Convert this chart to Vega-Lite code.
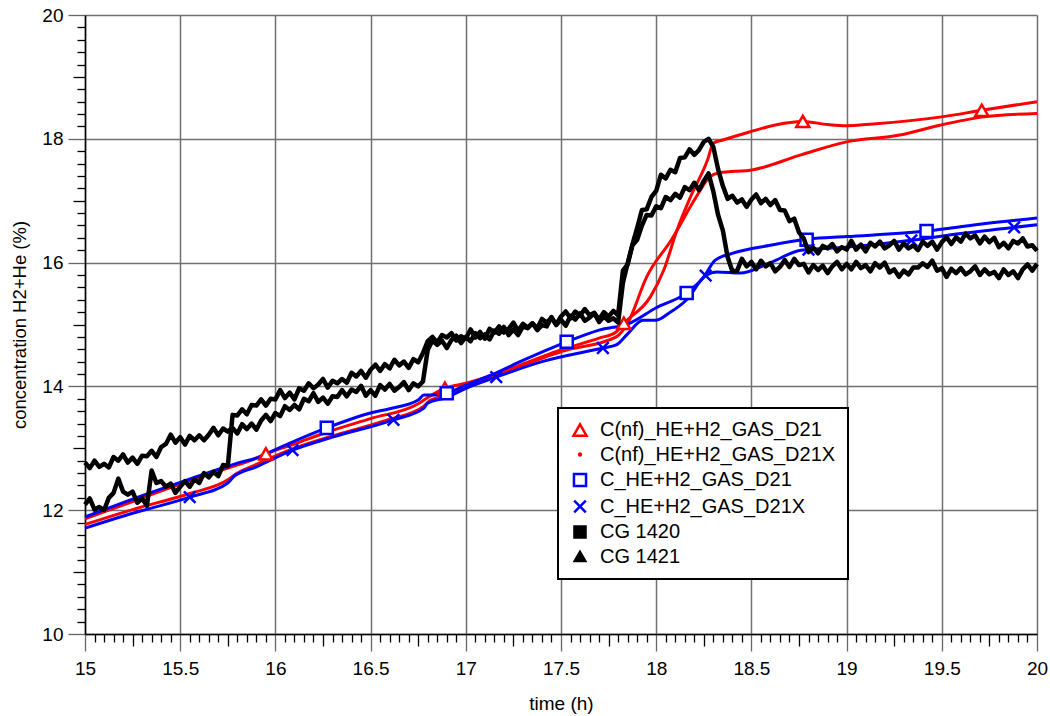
{
 "$schema": "https://vega.github.io/schema/vega-lite/v6.json",
 "width": 952,
 "height": 619,
 "autosize": {"type": "none"},
 "padding": {"left": 85, "top": 15, "right": 13, "bottom": 82},
 "background": "white",
 "config": {
  "font": "Liberation Sans",
  "view": {"stroke": null},
  "legend": {"labelFontSize": 20, "labelFont": "Liberation Sans", "labelColor": "black", "labelLimit": 400, "symbolSize": 110, "symbolStrokeWidth": 2.5, "strokeColor": "black", "strokeWidth": 2, "fillColor": "white", "padding": 12, "rowPadding": 3.5, "labelOffset": 10, "cornerRadius": 0}
 },
 "datasets": {
  "smooth": [
   {"series": "C(nf)_HE+H2_GAS_D21", "t": 15, "c": 11.86}, {"series": "C(nf)_HE+H2_GAS_D21", "t": 15.25, "c": 12.14}, {"series": "C(nf)_HE+H2_GAS_D21", "t": 15.5, "c": 12.42}, {"series": "C(nf)_HE+H2_GAS_D21", "t": 15.77, "c": 12.70}, {"series": "C(nf)_HE+H2_GAS_D21", "t": 15.85, "c": 12.78}, {"series": "C(nf)_HE+H2_GAS_D21", "t": 15.95, "c": 12.91}, {"series": "C(nf)_HE+H2_GAS_D21", "t": 16.1, "c": 13.07}, {"series": "C(nf)_HE+H2_GAS_D21", "t": 16.27, "c": 13.26}, {"series": "C(nf)_HE+H2_GAS_D21", "t": 16.5, "c": 13.48}, {"series": "C(nf)_HE+H2_GAS_D21", "t": 16.75, "c": 13.72}, {"series": "C(nf)_HE+H2_GAS_D21", "t": 16.8, "c": 13.82}, {"series": "C(nf)_HE+H2_GAS_D21", "t": 16.89, "c": 13.97}, {"series": "C(nf)_HE+H2_GAS_D21", "t": 17.0, "c": 14.05}, {"series": "C(nf)_HE+H2_GAS_D21", "t": 17.16, "c": 14.20}, {"series": "C(nf)_HE+H2_GAS_D21", "t": 17.35, "c": 14.42}, {"series": "C(nf)_HE+H2_GAS_D21", "t": 17.51, "c": 14.60}, {"series": "C(nf)_HE+H2_GAS_D21", "t": 17.7, "c": 14.78}, {"series": "C(nf)_HE+H2_GAS_D21", "t": 17.79, "c": 14.88}, {"series": "C(nf)_HE+H2_GAS_D21", "t": 17.83, "c": 15.02}, {"series": "C(nf)_HE+H2_GAS_D21", "t": 17.97, "c": 15.45}, {"series": "C(nf)_HE+H2_GAS_D21", "t": 18.04, "c": 15.88}, {"series": "C(nf)_HE+H2_GAS_D21", "t": 18.11, "c": 16.53}, {"series": "C(nf)_HE+H2_GAS_D21", "t": 18.18, "c": 17.06}, {"series": "C(nf)_HE+H2_GAS_D21", "t": 18.27, "c": 17.66}, {"series": "C(nf)_HE+H2_GAS_D21", "t": 18.3, "c": 17.93}, {"series": "C(nf)_HE+H2_GAS_D21", "t": 18.35, "c": 17.98}, {"series": "C(nf)_HE+H2_GAS_D21", "t": 18.49, "c": 18.11}, {"series": "C(nf)_HE+H2_GAS_D21", "t": 18.62, "c": 18.22}, {"series": "C(nf)_HE+H2_GAS_D21", "t": 18.77, "c": 18.28}, {"series": "C(nf)_HE+H2_GAS_D21", "t": 18.9, "c": 18.23}, {"series": "C(nf)_HE+H2_GAS_D21", "t": 19.0, "c": 18.21}, {"series": "C(nf)_HE+H2_GAS_D21", "t": 19.14, "c": 18.24}, {"series": "C(nf)_HE+H2_GAS_D21", "t": 19.49, "c": 18.35}, {"series": "C(nf)_HE+H2_GAS_D21", "t": 19.71, "c": 18.46}, {"series": "C(nf)_HE+H2_GAS_D21", "t": 20, "c": 18.6},
   {"series": "C(nf)_HE+H2_GAS_D21X", "t": 15, "c": 11.77}, {"series": "C(nf)_HE+H2_GAS_D21X", "t": 15.25, "c": 12.01}, {"series": "C(nf)_HE+H2_GAS_D21X", "t": 15.55, "c": 12.27}, {"series": "C(nf)_HE+H2_GAS_D21X", "t": 15.75, "c": 12.49}, {"series": "C(nf)_HE+H2_GAS_D21X", "t": 15.79, "c": 12.58}, {"series": "C(nf)_HE+H2_GAS_D21X", "t": 15.9, "c": 12.74}, {"series": "C(nf)_HE+H2_GAS_D21X", "t": 16.09, "c": 12.99}, {"series": "C(nf)_HE+H2_GAS_D21X", "t": 16.3, "c": 13.20}, {"series": "C(nf)_HE+H2_GAS_D21X", "t": 16.58, "c": 13.45}, {"series": "C(nf)_HE+H2_GAS_D21X", "t": 16.78, "c": 13.68}, {"series": "C(nf)_HE+H2_GAS_D21X", "t": 16.81, "c": 13.77}, {"series": "C(nf)_HE+H2_GAS_D21X", "t": 16.9, "c": 13.86}, {"series": "C(nf)_HE+H2_GAS_D21X", "t": 17.16, "c": 14.17}, {"series": "C(nf)_HE+H2_GAS_D21X", "t": 17.51, "c": 14.57}, {"series": "C(nf)_HE+H2_GAS_D21X", "t": 17.79, "c": 14.80}, {"series": "C(nf)_HE+H2_GAS_D21X", "t": 17.85, "c": 15.02}, {"series": "C(nf)_HE+H2_GAS_D21X", "t": 17.95, "c": 15.77}, {"series": "C(nf)_HE+H2_GAS_D21X", "t": 18.08, "c": 16.37}, {"series": "C(nf)_HE+H2_GAS_D21X", "t": 18.21, "c": 17.06}, {"series": "C(nf)_HE+H2_GAS_D21X", "t": 18.28, "c": 17.38}, {"series": "C(nf)_HE+H2_GAS_D21X", "t": 18.33, "c": 17.45}, {"series": "C(nf)_HE+H2_GAS_D21X", "t": 18.51, "c": 17.50}, {"series": "C(nf)_HE+H2_GAS_D21X", "t": 18.76, "c": 17.74}, {"series": "C(nf)_HE+H2_GAS_D21X", "t": 19.0, "c": 17.95}, {"series": "C(nf)_HE+H2_GAS_D21X", "t": 19.28, "c": 18.06}, {"series": "C(nf)_HE+H2_GAS_D21X", "t": 19.49, "c": 18.22}, {"series": "C(nf)_HE+H2_GAS_D21X", "t": 19.71, "c": 18.35}, {"series": "C(nf)_HE+H2_GAS_D21X", "t": 20, "c": 18.41},
   {"series": "C_HE+H2_GAS_D21", "t": 15, "c": 11.89}, {"series": "C_HE+H2_GAS_D21", "t": 15.25, "c": 12.18}, {"series": "C_HE+H2_GAS_D21", "t": 15.5, "c": 12.45}, {"series": "C_HE+H2_GAS_D21", "t": 15.75, "c": 12.71}, {"series": "C_HE+H2_GAS_D21", "t": 15.8, "c": 12.76}, {"series": "C_HE+H2_GAS_D21", "t": 15.9, "c": 12.84}, {"series": "C_HE+H2_GAS_D21", "t": 16.0, "c": 12.98}, {"series": "C_HE+H2_GAS_D21", "t": 16.27, "c": 13.33}, {"series": "C_HE+H2_GAS_D21", "t": 16.5, "c": 13.57}, {"series": "C_HE+H2_GAS_D21", "t": 16.6, "c": 13.64}, {"series": "C_HE+H2_GAS_D21", "t": 16.75, "c": 13.78}, {"series": "C_HE+H2_GAS_D21", "t": 16.78, "c": 13.86}, {"series": "C_HE+H2_GAS_D21", "t": 16.83, "c": 13.86}, {"series": "C_HE+H2_GAS_D21", "t": 16.9, "c": 13.89}, {"series": "C_HE+H2_GAS_D21", "t": 17.0, "c": 14.02}, {"series": "C_HE+H2_GAS_D21", "t": 17.16, "c": 14.22}, {"series": "C_HE+H2_GAS_D21", "t": 17.3, "c": 14.42}, {"series": "C_HE+H2_GAS_D21", "t": 17.53, "c": 14.72}, {"series": "C_HE+H2_GAS_D21", "t": 17.7, "c": 14.91}, {"series": "C_HE+H2_GAS_D21", "t": 17.86, "c": 15.02}, {"series": "C_HE+H2_GAS_D21", "t": 18.0, "c": 15.27}, {"series": "C_HE+H2_GAS_D21", "t": 18.16, "c": 15.51}, {"series": "C_HE+H2_GAS_D21", "t": 18.25, "c": 15.77}, {"series": "C_HE+H2_GAS_D21", "t": 18.31, "c": 16.04}, {"series": "C_HE+H2_GAS_D21", "t": 18.4, "c": 16.15}, {"series": "C_HE+H2_GAS_D21", "t": 18.6, "c": 16.28}, {"series": "C_HE+H2_GAS_D21", "t": 18.8, "c": 16.38}, {"series": "C_HE+H2_GAS_D21", "t": 19.0, "c": 16.42}, {"series": "C_HE+H2_GAS_D21", "t": 19.42, "c": 16.51}, {"series": "C_HE+H2_GAS_D21", "t": 19.7, "c": 16.62}, {"series": "C_HE+H2_GAS_D21", "t": 20, "c": 16.72},
   {"series": "C_HE+H2_GAS_D21X", "t": 15, "c": 11.71}, {"series": "C_HE+H2_GAS_D21X", "t": 15.25, "c": 11.95}, {"series": "C_HE+H2_GAS_D21X", "t": 15.55, "c": 12.21}, {"series": "C_HE+H2_GAS_D21X", "t": 15.75, "c": 12.44}, {"series": "C_HE+H2_GAS_D21X", "t": 15.78, "c": 12.54}, {"series": "C_HE+H2_GAS_D21X", "t": 15.9, "c": 12.70}, {"series": "C_HE+H2_GAS_D21X", "t": 16.09, "c": 12.97}, {"series": "C_HE+H2_GAS_D21X", "t": 16.3, "c": 13.18}, {"series": "C_HE+H2_GAS_D21X", "t": 16.62, "c": 13.46}, {"series": "C_HE+H2_GAS_D21X", "t": 16.78, "c": 13.65}, {"series": "C_HE+H2_GAS_D21X", "t": 16.8, "c": 13.73}, {"series": "C_HE+H2_GAS_D21X", "t": 16.9, "c": 13.82}, {"series": "C_HE+H2_GAS_D21X", "t": 17.0, "c": 13.97}, {"series": "C_HE+H2_GAS_D21X", "t": 17.16, "c": 14.15}, {"series": "C_HE+H2_GAS_D21X", "t": 17.4, "c": 14.40}, {"series": "C_HE+H2_GAS_D21X", "t": 17.72, "c": 14.62}, {"series": "C_HE+H2_GAS_D21X", "t": 17.79, "c": 14.67}, {"series": "C_HE+H2_GAS_D21X", "t": 17.85, "c": 14.85}, {"series": "C_HE+H2_GAS_D21X", "t": 17.93, "c": 15.07}, {"series": "C_HE+H2_GAS_D21X", "t": 18.0, "c": 15.07}, {"series": "C_HE+H2_GAS_D21X", "t": 18.07, "c": 15.19}, {"series": "C_HE+H2_GAS_D21X", "t": 18.16, "c": 15.40}, {"series": "C_HE+H2_GAS_D21X", "t": 18.26, "c": 15.79}, {"series": "C_HE+H2_GAS_D21X", "t": 18.32, "c": 15.85}, {"series": "C_HE+H2_GAS_D21X", "t": 18.44, "c": 15.83}, {"series": "C_HE+H2_GAS_D21X", "t": 18.6, "c": 16.0}, {"series": "C_HE+H2_GAS_D21X", "t": 18.76, "c": 16.20}, {"series": "C_HE+H2_GAS_D21X", "t": 19.0, "c": 16.25}, {"series": "C_HE+H2_GAS_D21X", "t": 19.34, "c": 16.36}, {"series": "C_HE+H2_GAS_D21X", "t": 19.6, "c": 16.47}, {"series": "C_HE+H2_GAS_D21X", "t": 19.88, "c": 16.57}, {"series": "C_HE+H2_GAS_D21X", "t": 20, "c": 16.61}
  ],
  "markers": [
   {"series": "C(nf)_HE+H2_GAS_D21", "t": 15.95, "c": 12.91}, {"series": "C(nf)_HE+H2_GAS_D21", "t": 16.89, "c": 13.97}, {"series": "C(nf)_HE+H2_GAS_D21", "t": 17.83, "c": 15.02}, {"series": "C(nf)_HE+H2_GAS_D21", "t": 18.77, "c": 18.28}, {"series": "C(nf)_HE+H2_GAS_D21", "t": 19.71, "c": 18.46},
   {"series": "C_HE+H2_GAS_D21", "t": 16.27, "c": 13.33}, {"series": "C_HE+H2_GAS_D21", "t": 16.9, "c": 13.89}, {"series": "C_HE+H2_GAS_D21", "t": 17.53, "c": 14.72}, {"series": "C_HE+H2_GAS_D21", "t": 18.16, "c": 15.51}, {"series": "C_HE+H2_GAS_D21", "t": 18.79, "c": 16.37}, {"series": "C_HE+H2_GAS_D21", "t": 19.42, "c": 16.51},
   {"series": "C_HE+H2_GAS_D21X", "t": 15.55, "c": 12.21}, {"series": "C_HE+H2_GAS_D21X", "t": 16.09, "c": 12.97}, {"series": "C_HE+H2_GAS_D21X", "t": 16.62, "c": 13.46}, {"series": "C_HE+H2_GAS_D21X", "t": 17.16, "c": 14.15}, {"series": "C_HE+H2_GAS_D21X", "t": 17.72, "c": 14.62}, {"series": "C_HE+H2_GAS_D21X", "t": 18.26, "c": 15.79}, {"series": "C_HE+H2_GAS_D21X", "t": 18.8, "c": 16.21}, {"series": "C_HE+H2_GAS_D21X", "t": 19.34, "c": 16.36}, {"series": "C_HE+H2_GAS_D21X", "t": 19.88, "c": 16.57}
  ],
  "black": [
   {"t": 15, "CG 1420": 12.77, "CG 1421": 12.09}, {"t": 15.025, "CG 1420": 12.68, "CG 1421": 12.19}, {"t": 15.05, "CG 1420": 12.80, "CG 1421": 12.01}, {"t": 15.075, "CG 1420": 12.70, "CG 1421": 12.05}, {"t": 15.1, "CG 1420": 12.75, "CG 1421": 12.00},
   {"t": 15.125, "CG 1420": 12.69, "CG 1421": 12.20}, {"t": 15.15, "CG 1420": 12.86, "CG 1421": 12.28}, {"t": 15.175, "CG 1420": 12.80, "CG 1421": 12.51}, {"t": 15.2, "CG 1420": 12.90, "CG 1421": 12.30}, {"t": 15.225, "CG 1420": 12.77, "CG 1421": 12.25},
   {"t": 15.25, "CG 1420": 12.85, "CG 1421": 12.30}, {"t": 15.275, "CG 1420": 12.75, "CG 1421": 12.12}, {"t": 15.3, "CG 1420": 12.88, "CG 1421": 12.19}, {"t": 15.325, "CG 1420": 12.87, "CG 1421": 12.07}, {"t": 15.35, "CG 1420": 12.96, "CG 1421": 12.64},
   {"t": 15.375, "CG 1420": 12.86, "CG 1421": 12.44}, {"t": 15.4, "CG 1420": 13.02, "CG 1421": 12.47}, {"t": 15.425, "CG 1420": 13.07, "CG 1421": 12.38}, {"t": 15.45, "CG 1420": 13.22, "CG 1421": 12.43}, {"t": 15.475, "CG 1420": 13.09, "CG 1421": 12.28},
   {"t": 15.5, "CG 1420": 13.18, "CG 1421": 12.38}, {"t": 15.525, "CG 1420": 13.06, "CG 1421": 12.47}, {"t": 15.55, "CG 1420": 13.20, "CG 1421": 12.38}, {"t": 15.575, "CG 1420": 13.13, "CG 1421": 12.50}, {"t": 15.6, "CG 1420": 13.21, "CG 1421": 12.44},
   {"t": 15.625, "CG 1420": 13.13, "CG 1421": 12.60}, {"t": 15.65, "CG 1420": 13.22, "CG 1421": 12.53}, {"t": 15.675, "CG 1420": 13.33, "CG 1421": 12.62}, {"t": 15.7, "CG 1420": 13.21, "CG 1421": 12.55}, {"t": 15.725, "CG 1420": 13.32, "CG 1421": 12.73},
   {"t": 15.75, "CG 1420": 13.27, "CG 1421": 12.71}, {"t": 15.775, "CG 1420": 13.33, "CG 1421": 13.54}, {"t": 15.8, "CG 1420": 13.24, "CG 1421": 13.53}, {"t": 15.825, "CG 1420": 13.39, "CG 1421": 13.63}, {"t": 15.85, "CG 1420": 13.31, "CG 1421": 13.55},
   {"t": 15.875, "CG 1420": 13.40, "CG 1421": 13.70}, {"t": 15.9, "CG 1420": 13.30, "CG 1421": 13.69}, {"t": 15.925, "CG 1420": 13.45, "CG 1421": 13.79}, {"t": 15.95, "CG 1420": 13.54, "CG 1421": 13.69}, {"t": 15.975, "CG 1420": 13.44, "CG 1421": 13.80},
   {"t": 16, "CG 1420": 13.57, "CG 1421": 13.79}, {"t": 16.025, "CG 1420": 13.52, "CG 1421": 13.94}, {"t": 16.05, "CG 1420": 13.68, "CG 1421": 13.81}, {"t": 16.075, "CG 1420": 13.62, "CG 1421": 13.90}, {"t": 16.1, "CG 1420": 13.70, "CG 1421": 13.79},
   {"t": 16.125, "CG 1420": 13.63, "CG 1421": 13.97}, {"t": 16.15, "CG 1420": 13.80, "CG 1421": 13.93}, {"t": 16.175, "CG 1420": 13.76, "CG 1421": 14.05}, {"t": 16.2, "CG 1420": 13.89, "CG 1421": 13.97}, {"t": 16.225, "CG 1420": 13.75, "CG 1421": 14.03},
   {"t": 16.25, "CG 1420": 13.82, "CG 1421": 14.12}, {"t": 16.275, "CG 1420": 13.72, "CG 1421": 13.98}, {"t": 16.3, "CG 1420": 13.84, "CG 1421": 14.09}, {"t": 16.325, "CG 1420": 13.83, "CG 1421": 14.05}, {"t": 16.35, "CG 1420": 13.94, "CG 1421": 14.12},
   {"t": 16.375, "CG 1420": 13.84, "CG 1421": 14.06}, {"t": 16.4, "CG 1420": 13.95, "CG 1421": 14.22}, {"t": 16.425, "CG 1420": 13.91, "CG 1421": 14.16}, {"t": 16.45, "CG 1420": 14.01, "CG 1421": 14.25}, {"t": 16.475, "CG 1420": 13.85, "CG 1421": 14.14},
   {"t": 16.5, "CG 1420": 13.94, "CG 1421": 14.27}, {"t": 16.525, "CG 1420": 13.85, "CG 1421": 14.35}, {"t": 16.55, "CG 1420": 14.02, "CG 1421": 14.25}, {"t": 16.575, "CG 1420": 13.95, "CG 1421": 14.36}, {"t": 16.6, "CG 1420": 14.04, "CG 1421": 14.29},
   {"t": 16.625, "CG 1420": 13.93, "CG 1421": 14.43}, {"t": 16.65, "CG 1420": 13.99, "CG 1421": 14.34}, {"t": 16.675, "CG 1420": 14.07, "CG 1421": 14.40}, {"t": 16.7, "CG 1420": 13.94, "CG 1421": 14.30}, {"t": 16.725, "CG 1420": 14.05, "CG 1421": 14.44},
   {"t": 16.75, "CG 1420": 14.00, "CG 1421": 14.39}, {"t": 16.775, "CG 1420": 14.08, "CG 1421": 14.54}, {"t": 16.8, "CG 1420": 14.59, "CG 1421": 14.73}, {"t": 16.825, "CG 1420": 14.74, "CG 1421": 14.80}, {"t": 16.85, "CG 1420": 14.67, "CG 1421": 14.71},
   {"t": 16.875, "CG 1420": 14.74, "CG 1421": 14.83}, {"t": 16.9, "CG 1420": 14.62, "CG 1421": 14.79}, {"t": 16.925, "CG 1420": 14.75, "CG 1421": 14.86}, {"t": 16.95, "CG 1420": 14.82, "CG 1421": 14.74}, {"t": 16.975, "CG 1420": 14.70, "CG 1421": 14.81},
   {"t": 17, "CG 1420": 14.80, "CG 1421": 14.77}, {"t": 17.025, "CG 1420": 14.73, "CG 1421": 14.92}, {"t": 17.05, "CG 1420": 14.86, "CG 1421": 14.79}, {"t": 17.075, "CG 1420": 14.78, "CG 1421": 14.88}, {"t": 17.1, "CG 1420": 14.84, "CG 1421": 14.77},
   {"t": 17.125, "CG 1420": 14.76, "CG 1421": 14.93}, {"t": 17.15, "CG 1420": 14.90, "CG 1421": 14.87}, {"t": 17.175, "CG 1420": 14.85, "CG 1421": 14.97}, {"t": 17.2, "CG 1420": 14.96, "CG 1421": 14.87}, {"t": 17.225, "CG 1420": 14.83, "CG 1421": 14.93},
   {"t": 17.25, "CG 1420": 14.92, "CG 1421": 15.03}, {"t": 17.275, "CG 1420": 14.83, "CG 1421": 14.90}, {"t": 17.3, "CG 1420": 14.97, "CG 1421": 15.01}, {"t": 17.325, "CG 1420": 14.94, "CG 1421": 14.95}, {"t": 17.35, "CG 1420": 15.02, "CG 1421": 15.02},
   {"t": 17.375, "CG 1420": 14.91, "CG 1421": 14.94}, {"t": 17.4, "CG 1420": 14.99, "CG 1421": 15.09}, {"t": 17.425, "CG 1420": 14.97, "CG 1421": 15.03}, {"t": 17.45, "CG 1420": 15.12, "CG 1421": 15.11}, {"t": 17.475, "CG 1420": 14.99, "CG 1421": 15.00},
   {"t": 17.5, "CG 1420": 15.08, "CG 1421": 15.13}, {"t": 17.525, "CG 1420": 14.98, "CG 1421": 15.21}, {"t": 17.55, "CG 1420": 15.14, "CG 1421": 15.10}, {"t": 17.575, "CG 1420": 15.08, "CG 1421": 15.21}, {"t": 17.6, "CG 1420": 15.18, "CG 1421": 15.14},
   {"t": 17.625, "CG 1420": 15.06, "CG 1421": 15.25}, {"t": 17.65, "CG 1420": 15.11, "CG 1421": 15.15}, {"t": 17.675, "CG 1420": 15.18, "CG 1421": 15.19}, {"t": 17.7, "CG 1420": 15.04, "CG 1421": 15.08}, {"t": 17.725, "CG 1420": 15.13, "CG 1421": 15.20},
   {"t": 17.75, "CG 1420": 15.06, "CG 1421": 15.13}, {"t": 17.775, "CG 1420": 15.10, "CG 1421": 15.22}, {"t": 17.8, "CG 1420": 15.03, "CG 1421": 15.15}, {"t": 17.825, "CG 1420": 15.67, "CG 1421": 15.87}, {"t": 17.85, "CG 1420": 15.99, "CG 1421": 15.97},
   {"t": 17.875, "CG 1420": 16.28, "CG 1421": 16.29}, {"t": 17.9, "CG 1420": 16.37, "CG 1421": 16.56}, {"t": 17.925, "CG 1420": 16.60, "CG 1421": 16.85}, {"t": 17.95, "CG 1420": 16.77, "CG 1421": 16.86}, {"t": 17.975, "CG 1420": 16.76, "CG 1421": 17.06},
   {"t": 18, "CG 1420": 16.91, "CG 1421": 17.16}, {"t": 18.025, "CG 1420": 16.88, "CG 1421": 17.42}, {"t": 18.05, "CG 1420": 17.06, "CG 1421": 17.36}, {"t": 18.075, "CG 1420": 17.01, "CG 1421": 17.50}, {"t": 18.1, "CG 1420": 17.11, "CG 1421": 17.46},
   {"t": 18.125, "CG 1420": 17.05, "CG 1421": 17.69}, {"t": 18.15, "CG 1420": 17.22, "CG 1421": 17.70}, {"t": 18.175, "CG 1420": 17.17, "CG 1421": 17.83}, {"t": 18.2, "CG 1420": 17.29, "CG 1421": 17.74}, {"t": 18.225, "CG 1420": 17.17, "CG 1421": 17.82},
   {"t": 18.25, "CG 1420": 17.32, "CG 1421": 17.95}, {"t": 18.275, "CG 1420": 17.44, "CG 1421": 18.00}, {"t": 18.3, "CG 1420": 17.15, "CG 1421": 17.87}, {"t": 18.325, "CG 1420": 16.77, "CG 1421": 17.51}, {"t": 18.35, "CG 1420": 16.52, "CG 1421": 17.24},
   {"t": 18.375, "CG 1420": 16.09, "CG 1421": 17.03}, {"t": 18.4, "CG 1420": 15.86, "CG 1421": 17.08}, {"t": 18.425, "CG 1420": 15.87, "CG 1421": 16.97}, {"t": 18.45, "CG 1420": 16.06, "CG 1421": 17.02}, {"t": 18.475, "CG 1420": 15.94, "CG 1421": 16.90},
   {"t": 18.5, "CG 1420": 16.01, "CG 1421": 17.02}, {"t": 18.525, "CG 1420": 15.89, "CG 1421": 17.10}, {"t": 18.55, "CG 1420": 16.03, "CG 1421": 16.96}, {"t": 18.575, "CG 1420": 15.94, "CG 1421": 17.03}, {"t": 18.6, "CG 1420": 15.99, "CG 1421": 16.93},
   {"t": 18.625, "CG 1420": 15.86, "CG 1421": 17.01}, {"t": 18.65, "CG 1420": 15.93, "CG 1421": 16.85}, {"t": 18.675, "CG 1420": 16.04, "CG 1421": 16.84}, {"t": 18.7, "CG 1420": 15.93, "CG 1421": 16.67}, {"t": 18.725, "CG 1420": 16.06, "CG 1421": 16.71},
   {"t": 18.75, "CG 1420": 15.96, "CG 1421": 16.49}, {"t": 18.775, "CG 1420": 15.98, "CG 1421": 16.39}, {"t": 18.8, "CG 1420": 15.84, "CG 1421": 16.17}, {"t": 18.825, "CG 1420": 15.96, "CG 1421": 16.24}, {"t": 18.85, "CG 1420": 15.88, "CG 1421": 16.15},
   {"t": 18.875, "CG 1420": 15.95, "CG 1421": 16.27}, {"t": 18.9, "CG 1420": 15.83, "CG 1421": 16.23}, {"t": 18.925, "CG 1420": 15.94, "CG 1421": 16.30}, {"t": 18.95, "CG 1420": 16.01, "CG 1421": 16.18}, {"t": 18.975, "CG 1420": 15.89, "CG 1421": 16.25},
   {"t": 19, "CG 1420": 15.98, "CG 1421": 16.21}, {"t": 19.025, "CG 1420": 15.89, "CG 1421": 16.35}, {"t": 19.05, "CG 1420": 16.01, "CG 1421": 16.21}, {"t": 19.075, "CG 1420": 15.91, "CG 1421": 16.29}, {"t": 19.1, "CG 1420": 15.96, "CG 1421": 16.18},
   {"t": 19.125, "CG 1420": 15.86, "CG 1421": 16.32}, {"t": 19.15, "CG 1420": 15.99, "CG 1421": 16.26}, {"t": 19.175, "CG 1420": 15.92, "CG 1421": 16.34}, {"t": 19.2, "CG 1420": 16.00, "CG 1421": 16.23}, {"t": 19.225, "CG 1420": 15.84, "CG 1421": 16.28},
   {"t": 19.25, "CG 1420": 15.89, "CG 1421": 16.35}, {"t": 19.275, "CG 1420": 15.77, "CG 1421": 16.21}, {"t": 19.3, "CG 1420": 15.87, "CG 1421": 16.31}, {"t": 19.325, "CG 1420": 15.81, "CG 1421": 16.23}, {"t": 19.35, "CG 1420": 15.92, "CG 1421": 16.28},
   {"t": 19.375, "CG 1420": 15.92, "CG 1421": 16.20}, {"t": 19.4, "CG 1420": 15.99, "CG 1421": 16.34}, {"t": 19.425, "CG 1420": 15.93, "CG 1421": 16.27}, {"t": 19.45, "CG 1420": 16.03, "CG 1421": 16.34}, {"t": 19.475, "CG 1420": 15.87, "CG 1421": 16.21},
   {"t": 19.5, "CG 1420": 15.91, "CG 1421": 16.33}, {"t": 19.525, "CG 1420": 15.77, "CG 1421": 16.41}, {"t": 19.55, "CG 1420": 15.90, "CG 1421": 16.30}, {"t": 19.575, "CG 1420": 15.83, "CG 1421": 16.41}, {"t": 19.6, "CG 1420": 15.91, "CG 1421": 16.34},
   {"t": 19.625, "CG 1420": 15.81, "CG 1421": 16.47}, {"t": 19.65, "CG 1420": 15.86, "CG 1421": 16.39}, {"t": 19.675, "CG 1420": 15.94, "CG 1421": 16.44}, {"t": 19.7, "CG 1420": 15.80, "CG 1421": 16.31}, {"t": 19.725, "CG 1420": 15.89, "CG 1421": 16.42},
   {"t": 19.75, "CG 1420": 15.81, "CG 1421": 16.33}, {"t": 19.775, "CG 1420": 15.85, "CG 1421": 16.40}, {"t": 19.8, "CG 1420": 15.75, "CG 1421": 16.25}, {"t": 19.825, "CG 1420": 15.89, "CG 1421": 16.32}, {"t": 19.85, "CG 1420": 15.80, "CG 1421": 16.23},
   {"t": 19.875, "CG 1420": 15.86, "CG 1421": 16.35}, {"t": 19.9, "CG 1420": 15.75, "CG 1421": 16.31}, {"t": 19.925, "CG 1420": 15.89, "CG 1421": 16.39}, {"t": 19.95, "CG 1420": 15.97, "CG 1421": 16.26}, {"t": 19.975, "CG 1420": 15.87, "CG 1421": 16.28},
   {"t": 20, "CG 1420": 15.98, "CG 1421": 16.19}
  ]
 },
 "encoding": {
  "x": {
   "field": "t", "type": "quantitative",
   "scale": {"domain": [15, 20], "nice": false, "zero": false},
   "axis": {
    "title": "time (h)",
    "values": [15,15.05,15.1,15.15,15.2,15.25,15.3,15.35,15.4,15.45,15.5,15.55,15.6,15.65,15.7,15.75,15.8,15.85,15.9,15.95,16,16.05,16.1,16.15,16.2,16.25,16.3,16.35,16.4,16.45,16.5,16.55,16.6,16.65,16.7,16.75,16.8,16.85,16.9,16.95,17,17.05,17.1,17.15,17.2,17.25,17.3,17.35,17.4,17.45,17.5,17.55,17.6,17.65,17.7,17.75,17.8,17.85,17.9,17.95,18,18.05,18.1,18.15,18.2,18.25,18.3,18.35,18.4,18.45,18.5,18.55,18.6,18.65,18.7,18.75,18.8,18.85,18.9,18.95,19,19.05,19.1,19.15,19.2,19.25,19.3,19.35,19.4,19.45,19.5,19.55,19.6,19.65,19.7,19.75,19.8,19.85,19.9,19.95,20],
    "labelExpr": "abs(datum.value*2-round(datum.value*2))<0.01 ? format(datum.value,'~g') : ''",
    "labelFontSize": 19, "labelFont": "Liberation Sans", "labelColor": "black", "labelPadding": 8, "labelOverlap": false, "labelFlush": false, "labelBound": false,
    "titleFontSize": 19, "titleFont": "Liberation Sans", "titleFontWeight": "normal", "titleColor": "black", "titlePadding": 16,
    "domainColor": "black", "domainWidth": 1.5,
    "tickSize": {"condition": [{"test": "abs(datum.value*2-round(datum.value*2))<0.01", "value": 17}, {"test": "abs(datum.value*4-round(datum.value*4))<0.01", "value": 12}], "value": 8},
    "tickColor": {"condition": {"test": "abs(datum.value*2-round(datum.value*2))<0.01", "value": "#666666"}, "value": "black"},
    "tickWidth": 1.3,
    "grid": true,
    "gridColor": "#707070",
    "gridWidth": 1.5,
    "gridOpacity": {"condition": {"test": "abs(datum.value*2-round(datum.value*2))<0.01", "value": 1}, "value": 0}
   }
  },
  "y": {
   "field": "c", "type": "quantitative",
   "scale": {"domain": [10, 20], "nice": false, "zero": false},
   "axis": {
    "title": "concentration H2+He (%)",
    "values": [10,10.2,10.4,10.6,10.8,11,11.2,11.4,11.6,11.8,12,12.2,12.4,12.6,12.8,13,13.2,13.4,13.6,13.8,14,14.2,14.4,14.6,14.8,15,15.2,15.4,15.6,15.8,16,16.2,16.4,16.6,16.8,17,17.2,17.4,17.6,17.8,18,18.2,18.4,18.6,18.8,19,19.2,19.4,19.6,19.8,20],
    "labelExpr": "abs(datum.value/2-round(datum.value/2))<0.01 ? format(datum.value,'~g') : ''",
    "labelFontSize": 19, "labelFont": "Liberation Sans", "labelColor": "black", "labelPadding": 5, "labelOverlap": false, "labelFlush": false, "labelBound": false,
    "titleFontSize": 18.5, "titleFont": "Liberation Sans", "titleFontWeight": "normal", "titleColor": "black", "titlePadding": 12,
    "domainColor": "black", "domainWidth": 1.5,
    "tickSize": {"condition": [{"test": "abs(datum.value/2-round(datum.value/2))<0.01", "value": 17}, {"test": "abs(datum.value-round(datum.value))<0.01", "value": 12}], "value": 8},
    "tickColor": {"condition": {"test": "abs(datum.value/2-round(datum.value/2))<0.01", "value": "#666666"}, "value": "black"},
    "tickWidth": 1.3,
    "grid": true,
    "gridColor": "#707070",
    "gridWidth": 1.5,
    "gridOpacity": {"condition": {"test": "abs(datum.value/2-round(datum.value/2))<0.01", "value": 1}, "value": 0}
   }
  }
 },
 "layer": [
  {
   "data": {"name": "smooth"},
   "mark": {"type": "line", "strokeWidth": 3, "interpolate": "monotone", "strokeJoin": "round"},
   "encoding": {
    "color": {"field": "series", "type": "nominal", "scale": {"domain": ["CG 1420", "CG 1421", "C(nf)_HE+H2_GAS_D21", "C(nf)_HE+H2_GAS_D21X", "C_HE+H2_GAS_D21", "C_HE+H2_GAS_D21X"], "range": ["#000000", "#000000", "#ff0000", "#ff0000", "#0000ff", "#0000ff"]}, "legend": null}
   }
  },
  {
   "data": {"name": "markers"},
   "mark": {"type": "point", "strokeWidth": 2.5, "opacity": 1},
   "encoding": {
    "shape": {"field": "series", "type": "nominal", "scale": {"domain": ["C(nf)_HE+H2_GAS_D21", "C(nf)_HE+H2_GAS_D21X", "C_HE+H2_GAS_D21", "C_HE+H2_GAS_D21X", "CG 1420", "CG 1421"], "range": ["triangle-up", "M-0.15,0A0.15,0.15 0 1,1 0.15,0A0.15,0.15 0 1,1 -0.15,0Z", "square", "M-1,-1L1,1M-1,1L1,-1", "square", "triangle-up"]}, "legend": {"title": null, "orient": "none", "legendX": 473, "legendY": 393}},
    "size": {"field": "series", "type": "nominal", "scale": {"domain": ["C(nf)_HE+H2_GAS_D21", "C(nf)_HE+H2_GAS_D21X", "C_HE+H2_GAS_D21", "C_HE+H2_GAS_D21X", "CG 1420", "CG 1421"], "range": [170, 110, 80, 110, 85, 160]}, "legend": {"title": null, "orient": "none", "legendX": 473, "legendY": 393}},
    "stroke": {"field": "series", "type": "nominal", "scale": {"domain": ["C(nf)_HE+H2_GAS_D21", "C(nf)_HE+H2_GAS_D21X", "C_HE+H2_GAS_D21", "C_HE+H2_GAS_D21X", "CG 1420", "CG 1421"], "range": ["#ff0000", "#ff0000", "#0000ff", "#0000ff", "#000000", "#000000"]}, "legend": {"title": null, "orient": "none", "legendX": 473, "legendY": 393}},
    "fill": {"field": "series", "type": "nominal", "scale": {"domain": ["C(nf)_HE+H2_GAS_D21", "C(nf)_HE+H2_GAS_D21X", "C_HE+H2_GAS_D21", "C_HE+H2_GAS_D21X", "CG 1420", "CG 1421"], "range": ["#ffffff", "#ff0000", "#ffffff", "#ffffff", "#000000", "#000000"]}, "legend": {"title": null, "orient": "none", "legendX": 473, "legendY": 393}}
   }
  },
  {
   "data": {"name": "black"},
   "transform": [{"fold": ["CG 1420", "CG 1421"], "as": ["series", "c"]}],
   "mark": {"type": "line", "strokeWidth": 4.5, "strokeJoin": "round"},
   "encoding": {
    "color": {"field": "series", "type": "nominal", "scale": {"domain": ["CG 1420", "CG 1421", "C(nf)_HE+H2_GAS_D21", "C(nf)_HE+H2_GAS_D21X", "C_HE+H2_GAS_D21", "C_HE+H2_GAS_D21X"], "range": ["#000000", "#000000", "#ff0000", "#ff0000", "#0000ff", "#0000ff"]}, "legend": null}
   }
  }
 ]
}
